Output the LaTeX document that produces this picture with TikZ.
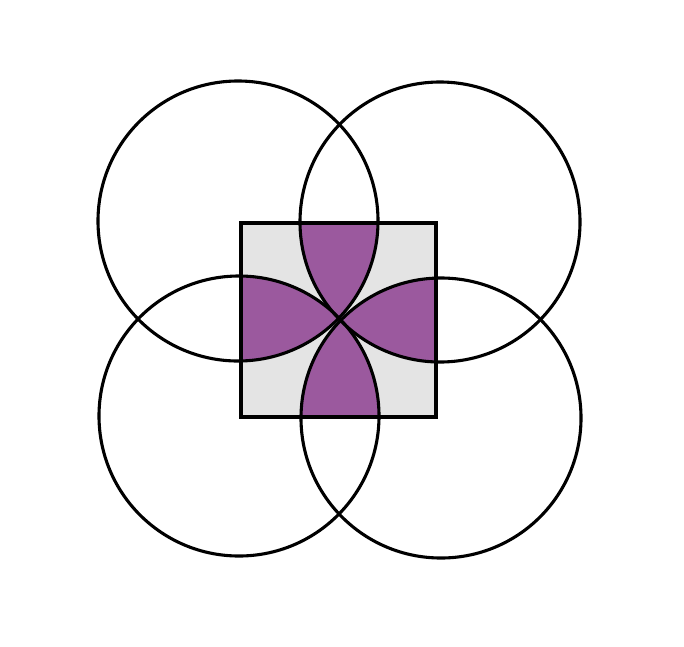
\documentclass[tikz,border=0pt]{standalone}
\usepackage{tikz}
\definecolor{petal}{RGB}{155,89,158}
\definecolor{sqgray}{RGB}{228,228,228}
\tikzset{
  outline/.style={draw=black,line width=3.1pt},
}
\begin{document}
\begin{tikzpicture}[x=1pt,y=-1pt]
\useasboundingbox (0,0) rectangle (684,646);
\coordinate (sq1) at (241,223);
\coordinate (sq2) at (436,417);
\coordinate (cTL) at (238,221);
\coordinate (cTR) at (440,222);
\coordinate (cBL) at (239,416);
\coordinate (cBR) at (441,418);
\def\R{140}
\fill[sqgray] (sq1) rectangle (sq2);
% top petal
\begin{scope}
  \clip (sq1) rectangle (sq2);
  \clip (cTL) circle[radius=\R];
  \fill[petal] (cTR) circle[radius=\R];
\end{scope}
% left petal
\begin{scope}
  \clip (sq1) rectangle (sq2);
  \clip (cTL) circle[radius=\R];
  \fill[petal] (cBL) circle[radius=\R];
\end{scope}
% right petal
\begin{scope}
  \clip (sq1) rectangle (sq2);
  \clip (cTR) circle[radius=\R];
  \fill[petal] (cBR) circle[radius=\R];
\end{scope}
% bottom petal
\begin{scope}
  \clip (sq1) rectangle (sq2);
  \clip (cBL) circle[radius=\R];
  \fill[petal] (cBR) circle[radius=\R];
\end{scope}
\draw[outline] (sq1) rectangle (sq2);
\draw[outline] (cTL) circle[radius=\R];
\draw[outline] (cTR) circle[radius=\R];
\draw[outline] (cBL) circle[radius=\R];
\draw[outline] (cBR) circle[radius=\R];
\end{tikzpicture}
\end{document}
